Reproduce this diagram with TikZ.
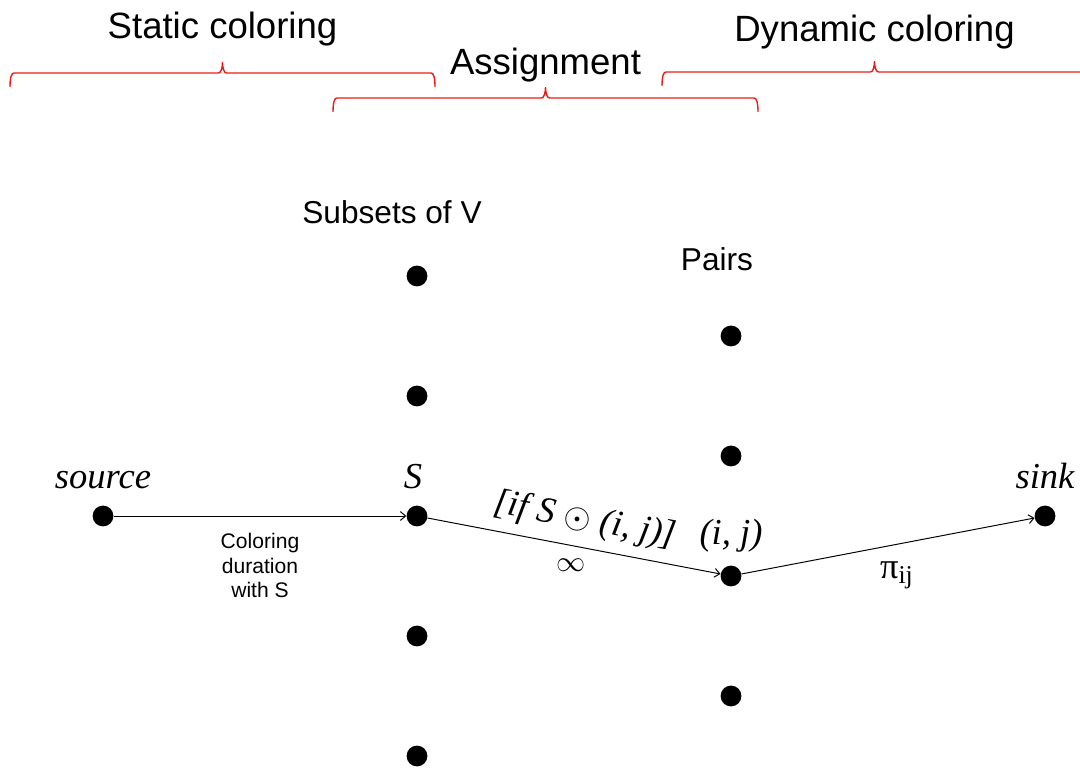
\documentclass[tikz,border=0pt]{standalone}
\usepackage{fontspec}
\setmainfont{Liberation Sans}
\newfontfamily\serifit{Liberation Serif}
\usetikzlibrary{arrows.meta, positioning}
\definecolor{bracered}{RGB}{235,28,20}

\begin{document}
\begin{tikzpicture}[
        node distance=3cm,
        >={Straight Barb[length=1.3mm, width=2.2mm]},
        dot/.style={circle, fill=black, inner sep=0pt, minimum size=5.2mm, on grid},
        hdr/.style={font=\fontsize{26}{31}\selectfont, inner sep=0pt},
        colhdr/.style={font=\fontsize{22.5}{27}\selectfont, inner sep=0pt},
        mlbl/.style={font=\serifit\itshape\fontsize{26}{31}\selectfont, inner sep=0pt},
        elbl/.style={font=\fontsize{15}{17.4}\selectfont, align=center, inner sep=1pt},
        conn/.style={->, line width=0.7pt},
        brc/.style={draw=bracered, line width=1pt},
        redbrace/.pic={
            \draw[brc] (0,0) .. controls +(0,0.25) and +(-0.06,0) .. ++(0.1,0.35)
                -- ++(5.1125,0) .. controls +(0.07,0) and +(0,-0.12) .. ++(0.1,0.27)
                .. controls +(0,-0.12) and +(-0.07,0) .. ++(0.1,-0.27)
                -- ++(5.1125,0) .. controls +(0.06,0) and +(0,0.25) .. ++(0.1,-0.35);
            \coordinate (-tip) at (5.3125,0.62);
        }
    ]
        \useasboundingbox (0,0) rectangle (27,19.2);
        % --- Spalte: Teilmengen von V ---
        \node[dot] (s) at (10.425,6.3) {};
        \node[dot, above=of s] (sa) {};
        \node[dot, above=of sa] (sb) {};
        \node[dot, below=of s] (sc) {};
        \node[dot, below=of sc] (sd) {};
        \node[colhdr, above=1.3cm of sb.center, anchor=base, xshift=-6.25mm] (subhdr) {Subsets of V};
        % --- Spalte: Paare ---
        \node[dot] (ij) at (18.275,4.8) {};
        \node[dot, above=of ij] (pa) {};
        \node[dot, above=of pa] (pb) {};
        \node[dot, below=of ij] (pc) {};
        \node[colhdr, above=1.625cm of pb.center, anchor=base, xshift=-3.5mm] (pairhdr) {Pairs};
        % --- Quelle und Senke ---
        \node[dot, left=7.85cm of s] (src) {};
        \node[dot, right=15.7cm of s] (snk) {};
        \node[mlbl, above=6.75mm of src.center, anchor=base] (srclbl) {source};
        \node[mlbl, above=6.75mm of s.center, anchor=base, xshift=-1mm] (slbl) {S};
        \node[mlbl, above=6.75mm of snk.center, anchor=base] (snklbl) {sink};
        \node[mlbl, above=7.75mm of ij.center, anchor=base] (ijlbl) {(i, j)};

        % --- Kanten ---
        \draw[conn] (src) -- node[elbl, below=11pt] (durlbl) {Coloring\\duration\\with S} (s);
        \draw[conn] (s) -- node[mlbl, sloped, above=7pt, pos=0.52] (condlbl) {[if S $\odot$ (i, j)]}
            node[below=8pt, pos=0.49, inner sep=1pt, font=\fontsize{22}{26}\selectfont] (inflbl) {$\infty$} (ij);
        \draw[conn] (ij) -- node[below=11pt, pos=0.53, inner sep=1pt, font=\serifit\fontsize{26}{31}\selectfont] (pilbl) {π\textsubscript{ij}} (snk);

        % --- Klammern oben ---
        \pic (st) at (0.25,17.025) {redbrace};
        \pic (as) at (8.325,16.4) {redbrace};
        \pic (dy) at (16.55,17.05) {redbrace};
        \node[hdr, above=6mm of st-tip, anchor=base] (stlbl) {Static coloring};
        \node[hdr, above=3.25mm of as-tip, anchor=base] (aslbl) {Assignment};
        \node[hdr, above=5mm of dy-tip, anchor=base] (dylbl) {Dynamic coloring};
    \end{tikzpicture}
\end{document}
